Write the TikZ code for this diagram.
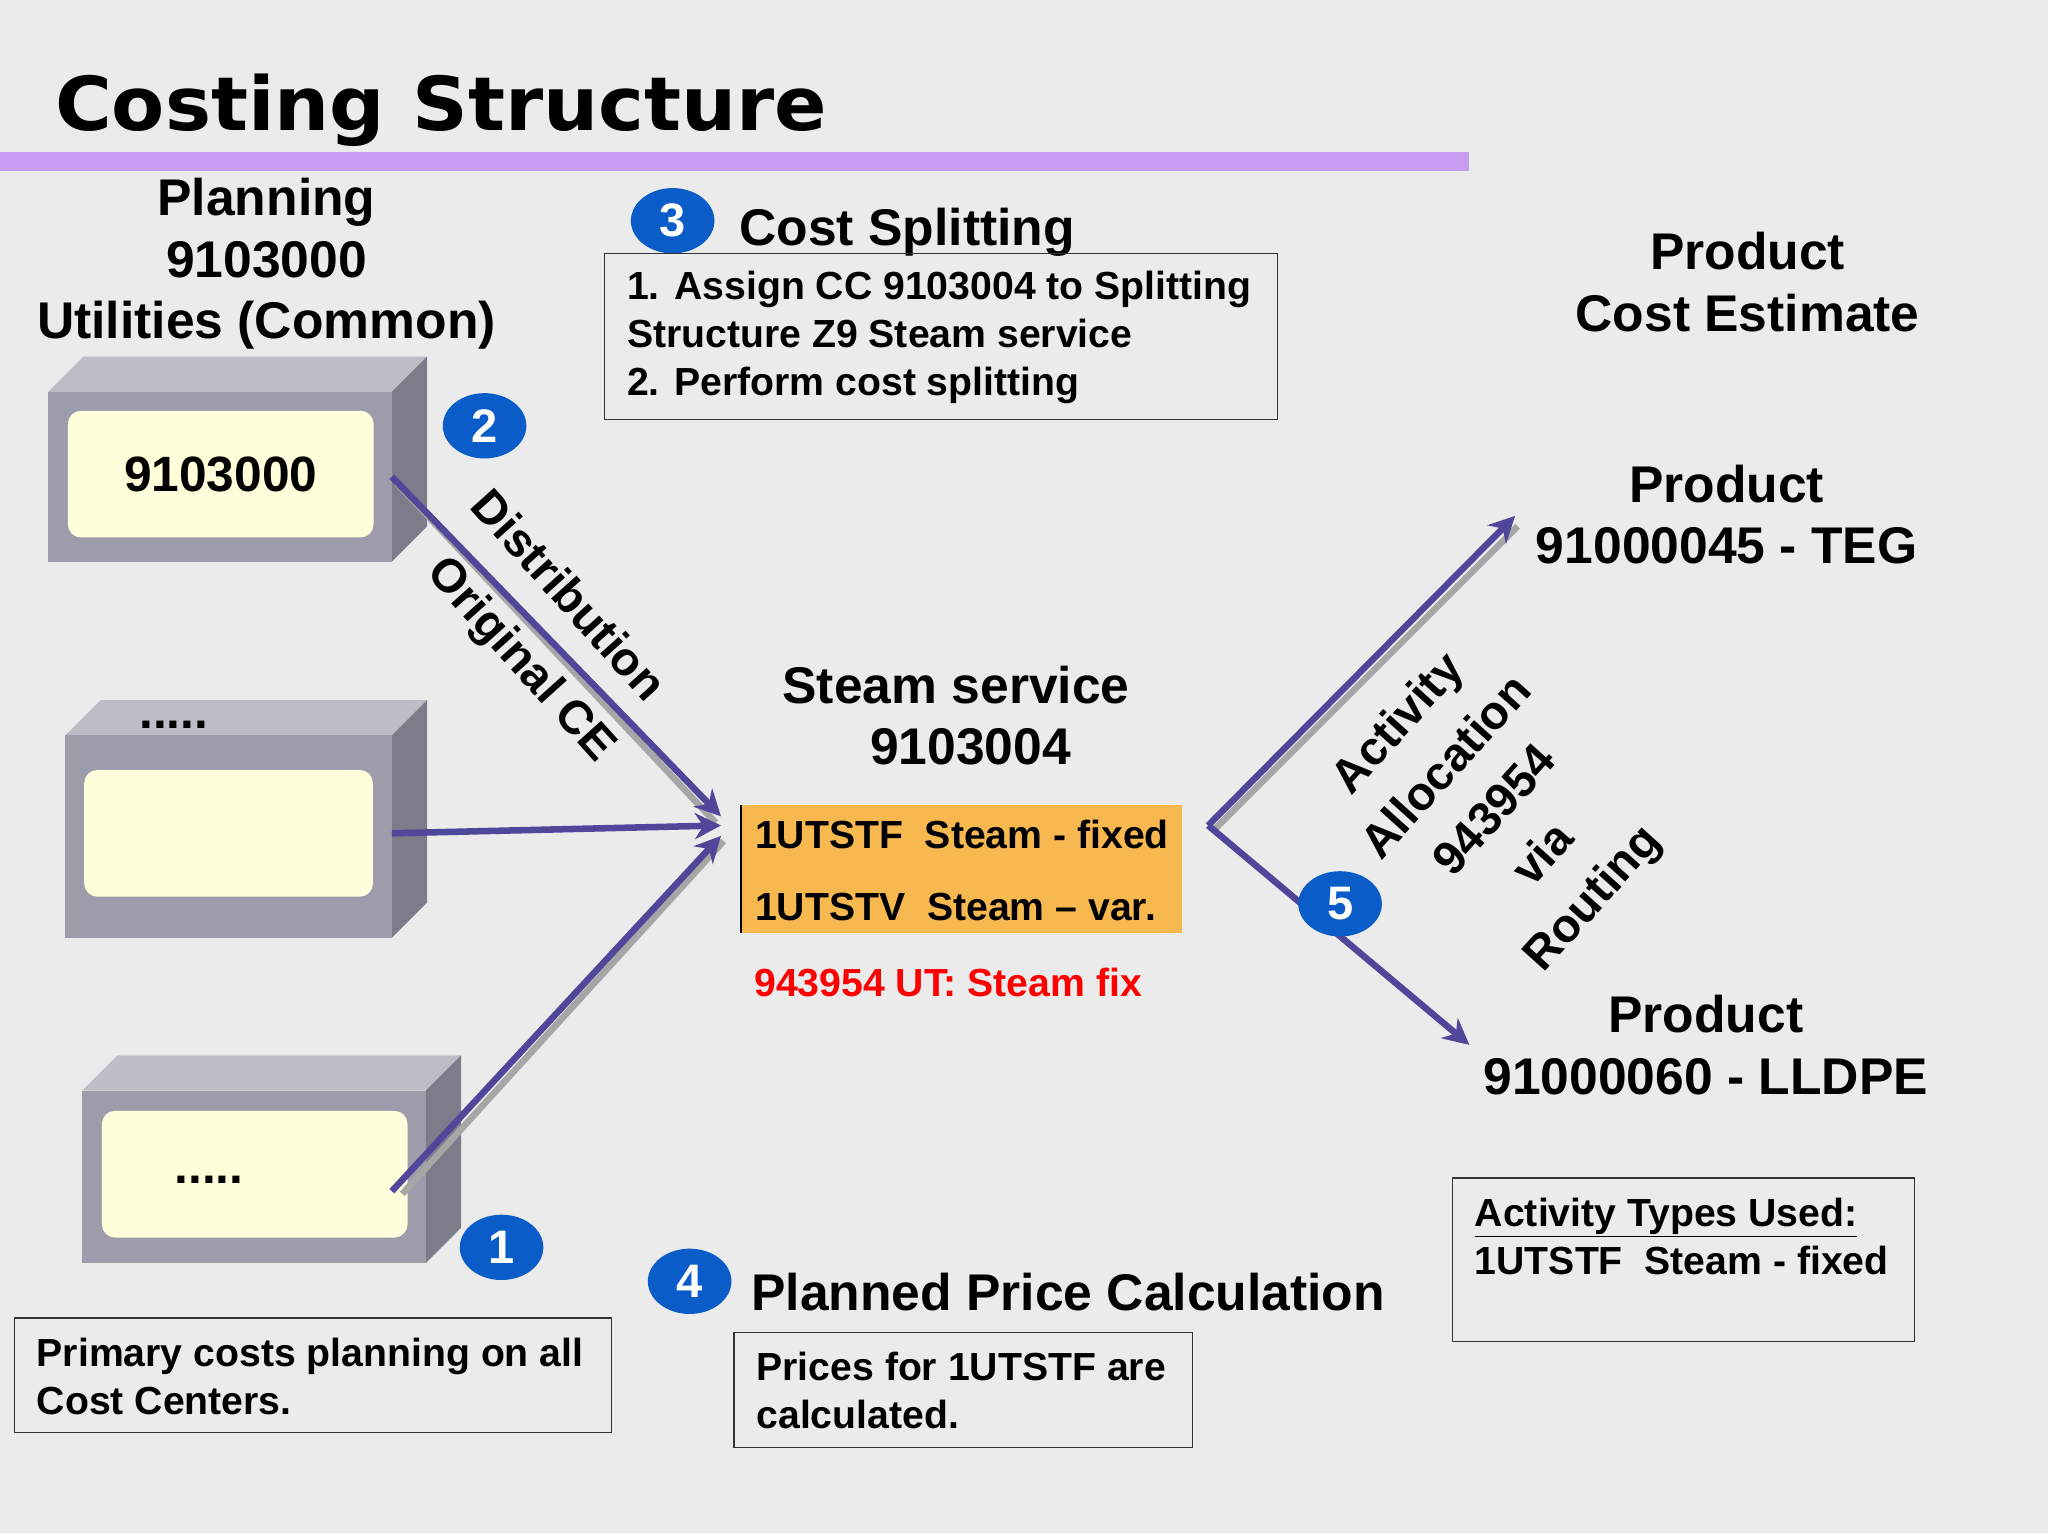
\documentclass[tikz,border=0pt]{standalone}
\usepackage{fontspec}
\setmainfont{Liberation Sans}
\newfontfamily\titlefont{DejaVu Sans}
\usetikzlibrary{arrows.meta,calc,shapes.geometric}
\definecolor{bg}{HTML}{EBEBEB}
\definecolor{bar}{HTML}{C89CF2}
\definecolor{arr}{HTML}{50469A}
\definecolor{num}{HTML}{0A5CC8}
\definecolor{fr}{HTML}{9C9CAA}
\definecolor{tp}{HTML}{BDBDC8}
\definecolor{sd}{HTML}{7C7C8A}
\definecolor{inn}{HTML}{FFFFDC}
\definecolor{org}{HTML}{F8B850}
\tikzset{
 fs/.style 2 args={font=\fontsize{#1}{#2}\selectfont\bfseries},
 big/.style={fs={39.5}{47},align=center,inner sep=0pt},
 txt/.style={fs={30}{37},align=left,inner sep=0pt,text depth=0pt},
 frame/.style={draw=black!80,line width=1pt},
 num/.style={ellipse,fill=num,text=white,fs={36}{40},minimum width=64,minimum height=50,inner sep=0pt},
 ar/.style={draw=arr,line width=5pt,-{Stealth[length=20pt,width=20pt]}},
 sh/.style={draw=black!35,line width=5pt},
}
\newcommand{\cbox}[5]{% x1 y1 x2 y2 depth
 \fill[tp] (#1,#2) -- ++(#5,-#5) -- (#3+#5,#2-#5) -- (#3,#2) -- cycle;
 \fill[sd] (#3,#2) -- ++(#5,-#5) -- (#3+#5,#4-#5) -- (#3,#4) -- cycle;
 \fill[fr] (#1,#2) rectangle (#3,#4);}
\begin{document}
\begin{tikzpicture}[x=1pt,y=-1pt]
\fill[bg] (0,0) rectangle (1568,1174);
\useasboundingbox (0,0) rectangle (1568,1174);
\node[font=\titlefont\fontsize{57}{60}\selectfont\bfseries,anchor=base west,inner sep=0pt,xscale=1.04] (title) at (42,100) {Costing Structure};
\fill[bar] (0,116) rectangle (1125,131);
\node[big] (plan) at (204,202) {Planning\\9103000\\Utilities (Common)};
% boxes
\cbox{37}{300}{300}{430}{27}
\node[fill=inn,rounded corners=10pt,minimum width=234,minimum height=97,fs={38}{40}] (b1) at (169,363) {9103000};
\cbox{50}{563}{300}{718}{27}
\node[fill=inn,rounded corners=10pt,minimum width=221,minimum height=97] (b2) at (175,638) {};
\node[fs={38}{40}] (d2) at (133,555) {.....};
\cbox{63}{835}{326}{967}{27}
\node[fill=inn,rounded corners=10pt,minimum width=234,minimum height=97] (b3) at (195,899) {};
\node[fs={38}{40}] (d3) at (160,903) {.....};
% arrows
\coordinate (s1) at (300,365); \coordinate (s2) at (300,638); \coordinate (s3) at (300,912);
\coordinate (t1) at (552,625); \coordinate (t2) at (552,632); \coordinate (t3) at (552,640);
\draw[sh] ($(s1)+(4,5)$) -- ($(t1)+(-4,5)$);
\draw[sh] ($(s3)+(8,2)$) -- ($(t3)+(2,4)$);
\draw[ar] (s1) -- (t1);
\draw[ar] (s2) -- (t2);
\draw[ar] (s3) -- (t3);
\node[fs={36}{40},rotate=-48] (dist) at (436,455) {Distribution};
\node[fs={36}{40},rotate=-48] (oce) at (398,506) {Original CE};
% numbers
\node[num] (n2) at (371,326) {2};
\node[num] (n3) at (515,169) {3};
\node[num] (n1) at (384,955) {1};
\node[num] (n4) at (528,981) {4};
% cost splitting
\node[big,anchor=base west] (cs) at (566,188) {Cost Splitting};
\draw[frame] (463,194) rectangle (978,321);
\node[txt,anchor=north west] (cst) at (480,207) {1. Assign CC 9103004 to Splitting\\Structure Z9 Steam service\\2. Perform cost splitting};
% steam
\node[big] (steam) at (732,548) {Steam service\\\hspace*{22pt}9103004};
\fill[org] (567,616) rectangle (905,714);
\draw[black,line width=1.5pt] (567,616) -- (567,714);
\node[txt,anchor=base west] (l1) at (578,650) {1UTSTF\ \ Steam - fixed};
\node[txt,anchor=base west] (l2) at (578,705) {1UTSTV\ \ Steam -- var.};
\node[txt,text=red,anchor=base] (red) at (726,763) {943954 UT: Steam fix};
% right arrows
\coordinate (o) at (925,632); \coordinate (p1) at (1160,395); \coordinate (p2) at (1125,800);
\draw[sh] ($(o)+(4,4)$) -- ($(p1)+(2,8)$);
\draw[ar] (o) -- (p1);
\draw[ar] (o) -- (p2);
\node[num] (n5) at (1026,692) {5};
\node[fs={36}{50},rotate=48,align=center] (act) at (1146,622) {Activity\\Allocation\\943954\\via\\Routing};
\node[big] (pce) at (1338,216) {Product\\Cost Estimate};
\node[big] (pteg) at (1322,394) {Product\\91000045 - TEG};
\node[big] (plld) at (1306,800) {Product\\91000060 - LLDPE};
\draw[frame] (1112,902) rectangle (1466,1027);
\node[txt,anchor=north west] (atu) at (1129,917) {\underline{Activity Types Used:}\\1UTSTF\ \ Steam - fixed};
% planned price
\node[big,anchor=base west] (ppc) at (575,1003) {Planned Price Calculation};
\draw[frame] (562,1020) rectangle (913,1108);
\node[txt,anchor=north west] (ppt) at (579,1035) {Prices for 1UTSTF are\\calculated.};
\draw[frame] (11,1009) rectangle (468,1097);
\node[txt,anchor=north west] (pct) at (28,1024) {Primary costs planning on all\\Cost Centers.};
\end{tikzpicture}
\end{document}
